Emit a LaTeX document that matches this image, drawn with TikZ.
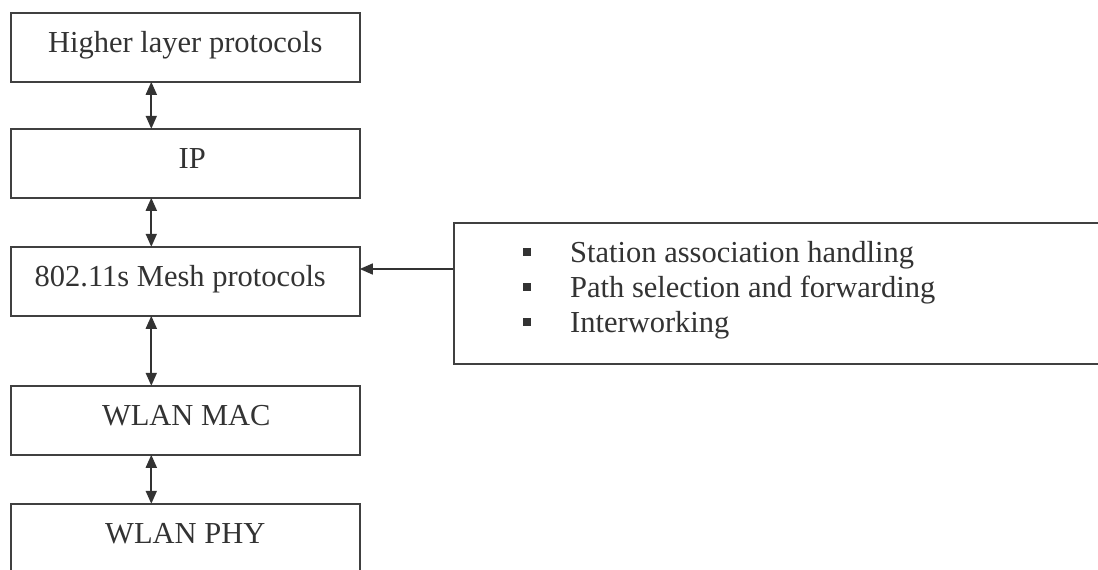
\documentclass[tikz,border=0pt]{standalone}
\usepackage{fontspec}
\setmainfont{Liberation Serif}
\usetikzlibrary{arrows.meta}
\definecolor{ink}{HTML}{333333}
\definecolor{frame}{HTML}{404040}
\begin{document}
\begin{tikzpicture}[x=1pt,y=-1pt,
  font=\fontsize{30.5}{35}\selectfont,
  layerbox/.style={draw=frame, line width=1.6pt, text=ink, anchor=north west,
    minimum width=349pt, inner xsep=0pt, inner ysep=0pt,
    text height=39.5pt, text depth=29.5pt},
  featbox/.style={draw=frame, line width=1.6pt, anchor=north west,
    minimum width=700pt, minimum height=141pt, inner sep=0pt},
  item/.style={text=ink, anchor=base west, inner sep=0pt},
  tipx/.tip={Triangle[length=13pt,width=11pt]},
  dbl/.style={draw=ink, line width=1.8pt, {tipx}-{tipx}, shorten <=-0.8pt, shorten >=-0.8pt},
  sgl/.style={draw=ink, line width=1.4pt, -{tipx}, shorten >=-0.8pt}]
  \useasboundingbox (0,0) rectangle (1098,570);
  \clip (0,0) rectangle (1098,570);
  \fill[white] (0,0) rectangle (1098,570);

  % protocol stack
  \node[layerbox] (hl)   at (10,12)  {Higher layer protocols};
  \node[layerbox] (ip)   at (10,128) {\hspace*{14pt}IP};
  \node[layerbox] (mesh) at (10,246) {802.11s Mesh protocols\hspace*{10pt}};
  \node[layerbox] (mac)  at (10,385) {WLAN MAC\hspace*{-2pt}};
  \node[layerbox] (phy)  at (10,503) {WLAN PHY};

  % mesh functions
  \node[featbox] (feat) at (453,222) {};
  \newcommand\sqbullet{\raisebox{6.5pt}{\rule{7.5pt}{7.5pt}}\hspace{39.5pt}}
  \node[item] (it1) at (523,262) {\sqbullet Station association handling};
  \node[item] (it2) at (523,297) {\sqbullet Path selection and forwarding};
  \node[item] (it3) at (523,332) {\sqbullet Interworking};

  % connectors between layers
  \draw[dbl] ([xshift=-34pt]hl.south)   -- ([xshift=-34pt]ip.north);
  \draw[dbl] ([xshift=-34pt]ip.south)   -- ([xshift=-34pt]mesh.north);
  \draw[dbl] ([xshift=-34pt]mesh.south) -- ([xshift=-34pt]mac.north);
  \draw[dbl] ([xshift=-34pt]mac.south)  -- ([xshift=-34pt]phy.north);

  % functions feed into the mesh layer
  \coordinate (tap) at (feat.west |- 0,269);
  \draw[sgl] (tap) -- (tap -| mesh.east);
\end{tikzpicture}
\end{document}
